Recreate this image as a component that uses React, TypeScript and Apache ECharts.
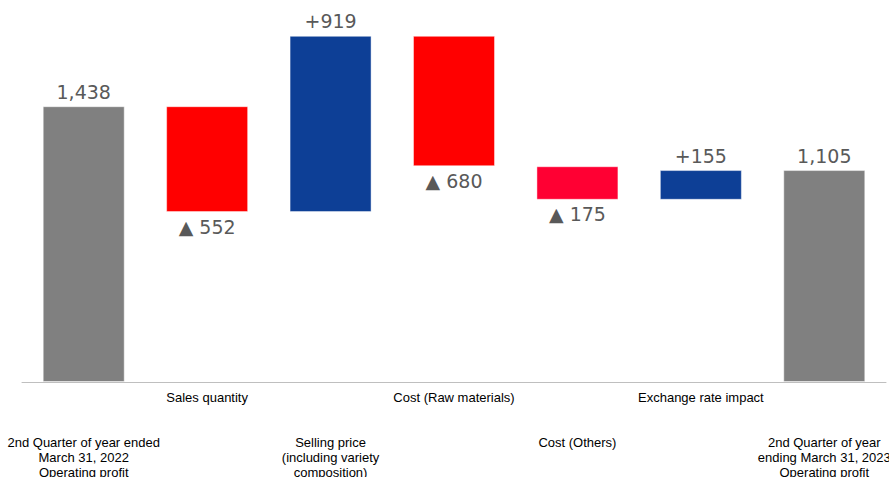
import React, { useEffect, useRef } from "react";
import * as echarts from "echarts";

const categories = [
  "2nd Quarter of year ended\nMarch 31, 2022\nOperating profit",
  "Sales quantity",
  "Selling price\n(including variety\ncomposition)",
  "Cost (Raw materials)",
  "Cost (Others)",
  "Exchange rate impact",
  "2nd Quarter of year\nending March 31, 2023\nOperating profit",
];
const startProfit = 1438;
const changes = [-552, 919, -680, -175, 155];
const endProfit = 1105;
const barColors = ["#808080", "#FF0000", "#0D3F96", "#FF0000", "#FF0033", "#0D3F96", "#808080"];

export default function App() {
  const ref = useRef<HTMLDivElement>(null);
  useEffect(() => {
    if (!ref.current) return;
    const chart = echarts.init(ref.current, null, { renderer: "svg" });

    const bases: number[] = [0];
    const heights: number[] = [startProfit];
    const kinds: string[] = ["total"];
    let running = startProfit;
    changes.forEach((c) => {
      const next = running + c;
      bases.push(Math.min(running, next));
      heights.push(Math.abs(c));
      kinds.push(c < 0 ? "neg" : "pos");
      running = next;
    });
    bases.push(0);
    heights.push(endProfit);
    kinds.push("total");

    const fmt = (n: number) => n.toLocaleString("en-US");

    const visible = heights.map((h, i) => {
      const kind = kinds[i];
      let text = fmt(h);
      if (kind === "neg") text = "▲ " + fmt(h);
      if (kind === "pos") text = "+" + fmt(h);
      return {
        value: h,
        itemStyle: {
          color: barColors[i],
          borderColor: "rgba(255,255,255,0.45)",
          borderWidth: 1,
        },
        label: {
          show: true,
          position: kind === "neg" ? "bottom" : "top",
          formatter: text,
        },
      };
    });

    chart.setOption({
      animation: false,
      grid: { left: 22, right: 3, top: 8, bottom: 95, containLabel: false, outerBoundsMode: "none" },
      xAxis: {
        type: "category",
        data: categories,
        axisLine: { show: true, lineStyle: { color: "#BFBFBF", width: 1 } },
        axisTick: { show: false },
        axisLabel: {
          interval: 0,
          margin: 8,
          color: "#000000",
          fontFamily: "Liberation Sans, Arial, sans-serif",
          fontSize: 13,
          lineHeight: 15,
          formatter: (v: string, i: number) => (i % 2 === 0 ? "\n\n\n" + v : v),
        },
      },
      yAxis: {
        type: "value",
        min: 0,
        max: 1950,
        show: false,
        splitLine: { show: false },
      },
      series: [
        {
          type: "bar",
          stack: "w",
          data: bases,
          barWidth: 82,
          itemStyle: { color: "transparent" },
          silent: true,
          label: { show: false },
        },
        {
          type: "bar",
          stack: "w",
          data: visible,
          barWidth: 82,
          label: {
            show: true,
            distance: 5,
            color: "#595959",
            fontFamily: "DejaVu Sans, Verdana, sans-serif",
            fontSize: 19,
          },
        },
      ],
    });
    return () => chart.dispose();
  }, []);
  return (
    <div
      ref={ref}
      style={{ position: "absolute", left: 0, top: 0, width: 889, height: 477, background: "#fff" }}
    />
  );
}
